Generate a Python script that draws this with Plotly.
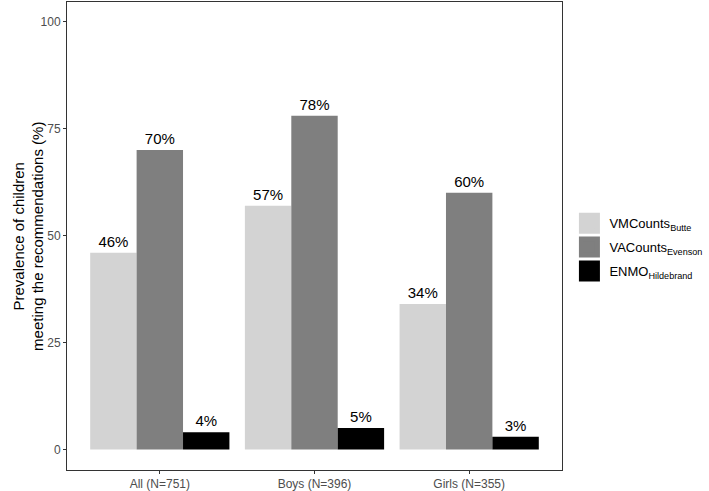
import plotly.graph_objects as go

groups = ["All (N=751)", "Boys (N=396)", "Girls (N=355)"]
series_names = [
    "VMCounts<sub>Butte</sub>",
    "VACounts<sub>Evenson</sub>",
    "ENMO<sub>Hildebrand</sub>",
]
vm_butte = [46, 57, 34]
va_evenson = [70, 78, 60]
enmo_hildebrand = [4, 5, 3]
colors = ["#d3d3d3", "#7f7f7f", "#000000"]

fig = go.Figure()
for name, vals, col in zip(series_names, [vm_butte, va_evenson, enmo_hildebrand], colors):
    fig.add_trace(go.Bar(
        x=groups,
        y=vals,
        name=name,
        showlegend=False,
        marker=dict(color=col, line=dict(width=0)),
        text=[f"{v}%" for v in vals],
        textposition="outside",
        textfont=dict(size=15, color="black"),
        cliponaxis=False,
    ))

# legend-only entries so the keys are big squares like ggplot's
# (plotly caps legend markers at 16px, the outline makes them bigger)
for name, col in zip(series_names, colors):
    fig.add_trace(go.Scatter(
        x=[None], y=[None], mode="markers", name=name,
        legendgroup=name,
        marker=dict(symbol="square", size=16, color=col,
                    line=dict(color=col, width=5)),
    ))

fig.update_layout(
    width=709,
    height=491,
    barmode="group",
    bargap=0.1,
    bargroupgap=0,
    plot_bgcolor="white",
    paper_bgcolor="white",
    font=dict(family="Liberation Sans, Arial, sans-serif", color="black"),
    margin=dict(l=67, r=138, t=2, b=21, pad=0),
    legend=dict(
        x=1.015, y=0.476, xanchor="left", yanchor="middle",
        font=dict(size=13, color="black"),
        itemsizing="trace",
        tracegroupgap=4,
        bgcolor="rgba(0,0,0,0)",
    ),
)
fig.update_xaxes(
    range=[-0.6, 2.6],
    automargin=False,
    showline=True, linecolor="#333333", linewidth=1, mirror=True,
    ticks="outside", ticklen=3, tickcolor="#333333",
    tickfont=dict(size=12, color="#4d4d4d"),
    showgrid=False,
)
fig.update_yaxes(
    range=[-4.8, 104.6],
    automargin=False,
    tickvals=[0, 25, 50, 75, 100],
    showline=True, linecolor="#333333", linewidth=1, mirror=True,
    ticks="outside", ticklen=3, tickcolor="#333333",
    tickfont=dict(size=12, color="#4d4d4d"),
    showgrid=False, zeroline=False,
)

# y title as an annotation so it can sit where ggplot puts it
fig.add_annotation(
    text="Prevalence of children<br>meeting the recommendations (%)",
    xref="paper", yref="paper", x=-0.079, y=0.5,
    xanchor="center", yanchor="middle", textangle=-90,
    showarrow=False, font=dict(size=15, color="black"),
)

# the page's default body margin would shift the figure by 8px
fig.write_html("out.html", config={"displayModeBar": False},
               post_script="document.body.style.margin='0';")
